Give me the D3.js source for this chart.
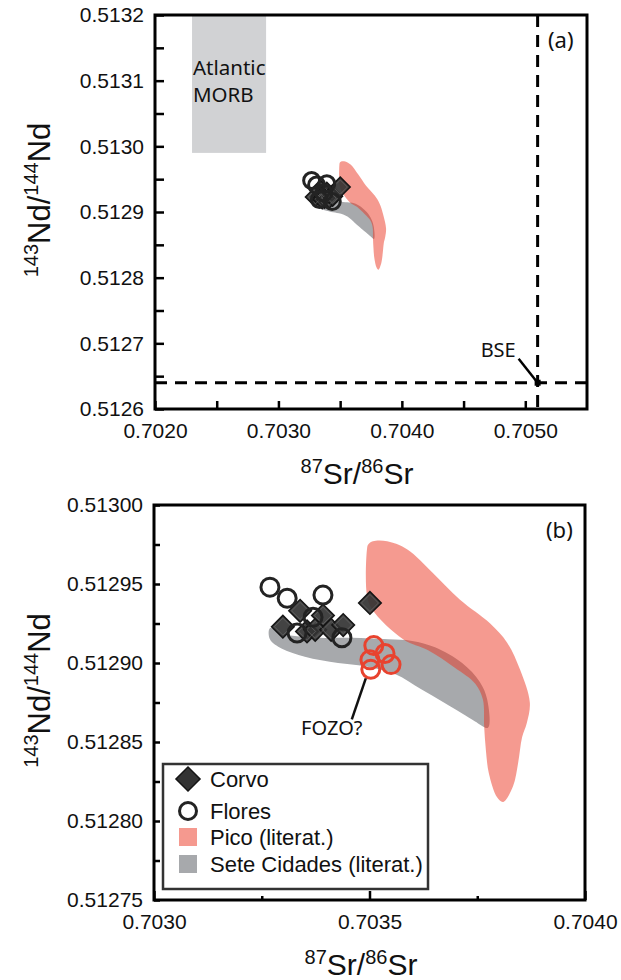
<!DOCTYPE html>
<html lang="en">
<head>
<meta charset="utf-8">
<title>Sr-Nd isotopes, Corvo and Flores</title>
<script src="https://d3js.org/d3.v7.min.js"></script>
<style>
  body { margin: 0; background: #fff; }
  svg { display: block; }
  .tick text { font-family: "Liberation Sans", Arial, sans-serif; font-size: 21px; fill: #111; }
  .tick line { stroke: #000; stroke-width: 2.5; }
  .ann { font-family: "Noto Sans", "Open Sans", sans-serif; fill: #111; }
  .leg { font-family: "Liberation Sans", Arial, sans-serif; font-size: 22px; fill: #111; }
</style>
</head>
<body>
<script>
// ---- data (87Sr/86Sr, 143Nd/144Nd) ----
const corvo = [
  [0.703299, 0.512923], [0.703339, 0.512933], [0.703392, 0.512930], [0.703355, 0.512920],
  [0.703374, 0.512921], [0.703411, 0.512921], [0.703439, 0.512924], [0.703501, 0.512938]
];
const flores = [
  [0.703269, 0.512948], [0.703309, 0.512941], [0.703392, 0.512943], [0.703369, 0.512929],
  [0.703332, 0.512919], [0.703436, 0.512916]
];
// red circles, panel (b) only
const fozo = [
  [0.703510, 0.512911], [0.703536, 0.512906], [0.703501, 0.512902], [0.703550, 0.512899],
  [0.703503, 0.512896]
];
// Pico field outline (literature)
const pico = [
  [0.703494, 0.5129715], [0.703497, 0.512975], [0.703508, 0.512977], [0.703541, 0.512977],
  [0.703587, 0.512972], [0.703647, 0.512957], [0.703710, 0.512940], [0.703780, 0.512925],
  [0.703819, 0.512913], [0.703849, 0.512896], [0.703872, 0.512875], [0.703865, 0.512862],
  [0.703854, 0.512853], [0.703845, 0.512837], [0.703833, 0.512822], [0.703810, 0.512812],
  [0.703796, 0.512815], [0.703777, 0.512830], [0.703770, 0.512845], [0.703766, 0.512860],
  [0.703763, 0.512877], [0.703745, 0.512887], [0.703698, 0.512897], [0.703636, 0.512908],
  [0.703578, 0.512915], [0.703506, 0.512934], [0.703494, 0.512943]
];
// Sete Cidades field outline (literature)
const sete = [
  [0.703269, 0.512922], [0.703304, 0.512918], [0.703385, 0.512916], [0.703459, 0.512916],
  [0.703543, 0.512915], [0.703599, 0.512914], [0.703652, 0.512910], [0.703715, 0.512900],
  [0.703756, 0.512888], [0.703773, 0.512877], [0.703775, 0.512859], [0.703745, 0.512863],
  [0.703715, 0.512868], [0.703622, 0.512883], [0.703559, 0.512893], [0.703490, 0.512898],
  [0.703427, 0.512900], [0.703350, 0.512904], [0.703297, 0.512909], [0.703269, 0.512915]
];
// reference values, panel (a)
const bse = [0.7051, 0.51264];
const morbSr = [0.7023, 0.7029];
const morbNd = [0.51299, 0.5132];

// ---- ticks ----
const aNdLabels = [0.5126, 0.5127, 0.5128, 0.5129, 0.5130, 0.5131, 0.5132];
const aNdMinor = [0.51265, 0.51275, 0.51285, 0.51295, 0.51305, 0.51315];
const aSrLabels = [0.7020, 0.7030, 0.7040, 0.7050];
const aSrMinor = [0.7025, 0.7035, 0.7045];
const bNdLabels = [0.51275, 0.51280, 0.51285, 0.51290, 0.51295, 0.51300];
const bNdMinor = [0.512775, 0.512825, 0.512875, 0.512925, 0.512975];
const bSrLabels = [0.7030, 0.7035, 0.7040];
const bSrMinor = [0.70325, 0.70375];

const width = 621, height = 980;
const svg = d3.select("body").append("svg").attr("width", width).attr("height", height);

const picoFill = "#eb3521", seteFill = "#a7a9ac";

function axisTitles(g, xMid, yBase, yMid, xBase) {
  const t = g.append("text").attr("x", xMid).attr("y", yBase)
    .attr("text-anchor", "middle")
    .style("font-family", "Liberation Sans, Arial, sans-serif").style("fill", "#111");
  t.append("tspan").attr("font-size", 20).attr("dy", -11).text("87");
  t.append("tspan").attr("font-size", 30).attr("dy", 11).text("Sr/");
  t.append("tspan").attr("font-size", 20).attr("dy", -11).text("86");
  t.append("tspan").attr("font-size", 30).attr("dy", 11).text("Sr");

  const y = g.append("text").attr("transform", `translate(${xBase},${yMid}) rotate(-90)`)
    .attr("text-anchor", "middle")
    .style("font-family", "Liberation Sans, Arial, sans-serif").style("fill", "#111");
  y.append("tspan").attr("font-size", 20).attr("dy", -12).text("143");
  y.append("tspan").attr("font-size", 31).attr("dy", 12).text("Nd/");
  y.append("tspan").attr("font-size", 20).attr("dy", -12).text("144");
  y.append("tspan").attr("font-size", 31).attr("dy", 12).text("Nd");
}

function drawPanel(p) {
  const x = d3.scaleLinear().domain(p.xDom).range(p.xRange);
  const y = d3.scaleLinear().domain(p.yDom).range(p.yRange);
  const g = svg.append("g");
  const clipId = "clip" + p.id;
  g.append("clipPath").attr("id", clipId).append("rect")
    .attr("x", p.xRange[0]).attr("y", p.yRange[1])
    .attr("width", p.xRange[1] - p.xRange[0]).attr("height", p.yRange[0] - p.yRange[1]);
  const plot = g.append("g").attr("clip-path", `url(#${clipId})`);

  const area = d3.line().x(d => x(d[0])).y(d => y(d[1])).curve(d3.curveCatmullRomClosed.alpha(0.5));

  if (p.extra) p.extra(plot, x, y);

  plot.append("path").datum(sete).attr("d", area).attr("fill", seteFill);
  plot.append("path").datum(pico).attr("d", area).attr("fill", picoFill).attr("fill-opacity", 0.5);

  const side = p.side;
  const diamond = d3.symbol(d3.symbolSquare, side * side);
  plot.selectAll(".corvo").data(corvo).enter().append("path")
    .attr("d", diamond)
    .attr("transform", d => `translate(${x(d[0])},${y(d[1])}) rotate(45)`)
    .attr("fill", "#333").attr("fill-opacity", 0.92)
    .attr("stroke", "#151515").attr("stroke-width", 1.5);
  plot.selectAll(".corvoIn").data(corvo).enter().append("path")
    .attr("d", d3.symbol(d3.symbolSquare, (side - 4) * (side - 4)))
    .attr("transform", d => `translate(${x(d[0])},${y(d[1])}) rotate(45)`)
    .attr("fill", "none").attr("stroke", "#6a6a6a").attr("stroke-width", 0.6);

  plot.selectAll(".flores").data(flores).enter().append("circle")
    .attr("cx", d => x(d[0])).attr("cy", d => y(d[1])).attr("r", p.r)
    .attr("fill", "none").attr("stroke", "#232323").attr("stroke-width", 3);

  if (p.fozo) {
    plot.selectAll(".fozo").data(fozo).enter().append("circle")
      .attr("cx", d => x(d[0])).attr("cy", d => y(d[1])).attr("r", p.r)
      .attr("fill", "none").attr("stroke", "#e8432f").attr("stroke-width", 3);
  }

  // ticks, drawn inward
  const xb = p.yRange[0], xl = p.xRange[0];
  g.append("g").attr("transform", `translate(0,${xb})`)
    .call(d3.axisBottom(x).tickValues(p.xLabels).tickSize(-p.xMajor).tickPadding(14)
      .tickFormat(d3.format(p.xFmt)))
    .call(a => a.select(".domain").remove())
    .call(a => a.selectAll("text").attr("dy", "0.71em"));
  g.append("g").attr("transform", `translate(0,${xb})`)
    .call(d3.axisBottom(x).tickValues(p.xMinor).tickSize(-p.xMinorLen).tickFormat(""))
    .call(a => a.select(".domain").remove());
  g.append("g").attr("transform", `translate(${xl},0)`)
    .call(d3.axisLeft(y).tickValues(p.yLabels).tickSize(-p.yLen).tickPadding(11)
      .tickFormat(d3.format(p.yFmt)))
    .call(a => a.select(".domain").remove());
  g.append("g").attr("transform", `translate(${xl},0)`)
    .call(d3.axisLeft(y).tickValues(p.yMinor).tickSize(-p.yLen).tickFormat(""))
    .call(a => a.select(".domain").remove());

  g.append("rect")
    .attr("x", p.xRange[0]).attr("y", p.yRange[1])
    .attr("width", p.xRange[1] - p.xRange[0]).attr("height", p.yRange[0] - p.yRange[1])
    .attr("fill", "none").attr("stroke", "#000").attr("stroke-width", 3);

  g.append("text").attr("class", "ann").attr("x", p.xRange[1] - 39).attr("y", p.yRange[1] + 33)
    .attr("font-size", 22).text(p.tag);

  axisTitles(g, p.titleX, p.titleY, (p.yRange[0] + p.yRange[1]) / 2 - 12, 50);
  return { x, y, g };
}

// ---- panel (a) ----
const A = drawPanel({
  id: "a", tag: "(a)",
  xDom: [0.7020, 0.7055], xRange: [155, 587],
  yDom: [0.5126, 0.5132], yRange: [409, 15],
  xLabels: aSrLabels, xMinor: aSrMinor, xFmt: ".4f", xMajor: 8, xMinorLen: 8,
  yLabels: aNdLabels, yMinor: aNdMinor, yFmt: ".4f", yLen: 9,
  side: 14, r: 8, fozo: false,
  titleX: 357, titleY: 484,
  extra: (plot, x, y) => {
    plot.append("rect")
      .attr("x", x(morbSr[0])).attr("y", y(morbNd[1]))
      .attr("width", x(morbSr[1]) - x(morbSr[0])).attr("height", y(morbNd[0]) - y(morbNd[1]))
      .attr("fill", "#d1d2d4");
  }
});

// BSE dashed lines and label
A.g.append("line").attr("x1", A.x(bse[0])).attr("x2", A.x(bse[0]))
  .attr("y1", A.y(0.5132)).attr("y2", A.y(0.5126))
  .attr("stroke", "#000").attr("stroke-width", 3).attr("stroke-dasharray", "12,8");
A.g.append("line").attr("x1", A.x(0.7020)).attr("x2", A.x(0.7055))
  .attr("y1", A.y(bse[1])).attr("y2", A.y(bse[1]))
  .attr("stroke", "#000").attr("stroke-width", 3).attr("stroke-dasharray", "12,8");
A.g.append("rect").attr("x", A.x(bse[0]) - 3).attr("y", A.y(bse[1]) - 3)
  .attr("width", 6).attr("height", 6).attr("fill", "#000");
A.g.append("line").attr("x1", A.x(bse[0]) - 19).attr("y1", A.y(bse[1]) - 24)
  .attr("x2", A.x(bse[0])).attr("y2", A.y(bse[1]))
  .attr("stroke", "#000").attr("stroke-width", 2.5);
A.g.append("text").attr("class", "ann").attr("x", A.x(bse[0]) - 57).attr("y", A.y(bse[1]) - 26)
  .attr("font-size", 20).text("BSE");

A.g.append("text").attr("class", "ann").attr("x", A.x(morbSr[0]) + 1).attr("y", 75)
  .attr("font-size", 20.5).text("Atlantic");
A.g.append("text").attr("class", "ann").attr("x", A.x(morbSr[0]) + 1).attr("y", 102)
  .attr("font-size", 20.5).text("MORB");

// ---- panel (b) ----
const B = drawPanel({
  id: "b", tag: "(b)",
  xDom: [0.7030, 0.7040], xRange: [154, 585],
  yDom: [0.51275, 0.51300], yRange: [900, 505],
  xLabels: bSrLabels, xMinor: bSrMinor, xFmt: ".4f", xMajor: 9, xMinorLen: 4,
  yLabels: bNdLabels, yMinor: bNdMinor, yFmt: ".5f", yLen: 6,
  side: 16, r: 9, fozo: true,
  titleX: 361, titleY: 975
});

// FOZO label
const fz = fozo[4];
B.g.append("line").attr("x1", B.x(fz[0]) - 5).attr("y1", B.y(fz[1]) + 9)
  .attr("x2", B.x(fz[0]) - 19).attr("y2", B.y(fz[1]) + 50)
  .attr("stroke", "#111").attr("stroke-width", 2.5);
B.g.append("text").attr("class", "ann").attr("x", B.x(fz[0]) - 39).attr("y", B.y(fz[1]) + 66)
  .attr("text-anchor", "middle").attr("font-size", 20).text("FOZO?");

// legend
const leg = B.g.append("g").attr("transform", "translate(163,764)");
leg.append("rect").attr("width", 265).attr("height", 125)
  .attr("fill", "#fff").attr("stroke", "#333").attr("stroke-width", 2.5);
const legItems = [
  { label: "Corvo", kind: "diamond", y: 15 },
  { label: "Flores", kind: "circle", y: 47 },
  { label: "Pico (literat.)", kind: "pico", y: 73 },
  { label: "Sete Cidades (literat.)", kind: "sete", y: 100 }
];
legItems.forEach(it => {
  const cx = 25;
  if (it.kind === "diamond") {
    leg.append("path").attr("d", d3.symbol(d3.symbolSquare, 17 * 17))
      .attr("transform", `translate(${cx},${it.y}) rotate(45)`)
      .attr("fill", "#333").attr("stroke", "#151515").attr("stroke-width", 1.5);
  } else if (it.kind === "circle") {
    leg.append("circle").attr("cx", cx).attr("cy", it.y).attr("r", 8.5)
      .attr("fill", "none").attr("stroke", "#232323").attr("stroke-width", 3);
  } else {
    leg.append("rect").attr("x", cx - 9).attr("y", it.y - 9).attr("width", 18).attr("height", 18)
      .attr("fill", it.kind === "pico" ? "#f5998f" : seteFill);
  }
  leg.append("text").attr("class", "leg").attr("x", 47).attr("y", it.y + 8).text(it.label);
});
</script>
</body>
</html>
